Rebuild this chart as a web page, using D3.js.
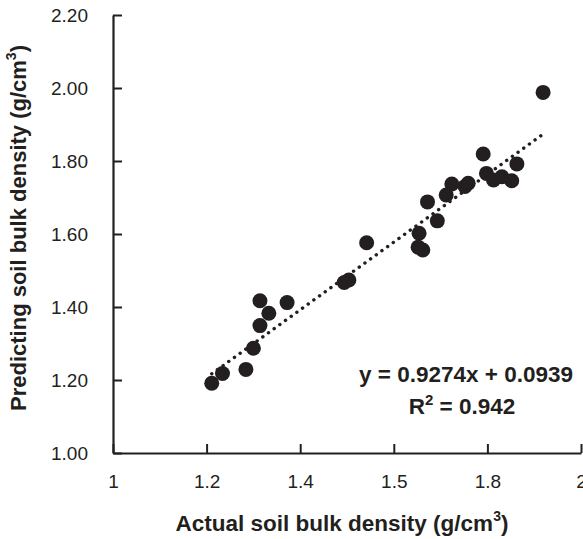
<!DOCTYPE html>
<html>
<head>
<meta charset="utf-8">
<script src="https://cdn.jsdelivr.net/npm/d3@7"></script>
<style>
  body { margin: 0; background: #fff; }
  text { font-family: "Liberation Sans", Arial, sans-serif; fill: #231f20; }
</style>
</head>
<body>
<svg id="chart" width="583" height="539"></svg>
<script>
const actual = [1.211, 1.234, 1.284, 1.300, 1.314, 1.314, 1.333, 1.372, 1.494, 1.504,
  1.542, 1.654, 1.652, 1.662, 1.672, 1.693, 1.712, 1.724, 1.752, 1.759,
  1.791, 1.798, 1.813, 1.831, 1.852, 1.863, 1.919];
const predicted = [1.191, 1.218, 1.229, 1.287, 1.349, 1.417, 1.383, 1.412, 1.467, 1.474,
  1.576, 1.602, 1.564, 1.556, 1.688, 1.636, 1.707, 1.737, 1.730, 1.739,
  1.819, 1.766, 1.748, 1.757, 1.746, 1.792, 1.988];

const xTicks = [1, 1.2, 1.4, 1.6, 1.8, 2];
const xTickLabels = ["1", "1.2", "1.4", "1.5", "1.8", "2"];
const yTicks = [1.0, 1.2, 1.4, 1.6, 1.8, 2.0, 2.2];

const slope = 0.9274;
const intercept = 0.0939;
const r2 = "0.942";

const svg = d3.select("#chart");
const ink = "#231f20";

const x = d3.scaleLinear().domain([1, 2]).range([113, 581]);
const y = d3.scaleLinear().domain([1, 2.2]).range([453, 15]);

// axes: ticks point into the plot
const xAxis = svg.append("g")
  .attr("transform", `translate(0,${y(1)})`)
  .call(d3.axisBottom(x).tickValues(xTicks).tickSizeInner(-9).tickSizeOuter(0)
    .tickFormat((d, i) => xTickLabels[i]).tickPadding(22));

const yAxis = svg.append("g")
  .attr("transform", `translate(${x(1)},0)`)
  .call(d3.axisLeft(y).tickValues(yTicks).tickSizeInner(-9).tickSizeOuter(0)
    .tickFormat(d3.format(".2f")).tickPadding(25));

[xAxis, yAxis].forEach((g) => {
  g.select(".domain").attr("stroke", ink).attr("stroke-width", 2.2);
  g.selectAll(".tick line").attr("stroke", ink).attr("stroke-width", 2);
  g.selectAll(".tick text").style("font-size", "19px").attr("fill", ink);
});
yAxis.selectAll(".tick text").attr("dy", "0.36em");

// trend line, dotted
const xExt = d3.extent(actual);
const trend = xExt.map((v) => [v, slope * v + intercept]);
svg.append("path")
  .datum(trend)
  .attr("d", d3.line().x((d) => x(d[0])).y((d) => y(d[1])))
  .attr("fill", "none")
  .attr("stroke", ink)
  .attr("stroke-width", 3.4)
  .attr("stroke-linecap", "round")
  .attr("stroke-dasharray", "0.1 6.9");

// points
svg.append("g")
  .selectAll("circle")
  .data(actual)
  .join("circle")
  .attr("cx", (d) => x(d))
  .attr("cy", (d, i) => y(predicted[i]))
  .attr("r", 7.5)
  .attr("fill", ink);

// equation
const eq = svg.append("text")
  .attr("text-anchor", "middle")
  .style("font-size", "22.5px")
  .style("font-weight", "bold");
eq.append("tspan").attr("x", 466).attr("y", 382)
  .text(`y = ${slope}x + ${intercept}`);
const r2Line = eq.append("tspan").attr("x", 462).attr("y", 414);
r2Line.append("tspan").text("R");
r2Line.append("tspan").attr("dy", -9).style("font-size", "15px").text("2");
r2Line.append("tspan").attr("dy", 9).text(" = " + r2);

// axis titles
const xTitle = svg.append("text")
  .attr("x", 342).attr("y", 531)
  .attr("text-anchor", "middle")
  .style("font-size", "22.5px")
  .style("font-weight", "bold");
xTitle.append("tspan").text("Actual soil bulk density (g/cm");
xTitle.append("tspan").attr("dy", -10).style("font-size", "14px").text("3");
xTitle.append("tspan").attr("dy", 10).text(")");

const yTitle = svg.append("text")
  .attr("transform", "translate(26,228) rotate(-90)")
  .attr("text-anchor", "middle")
  .style("font-size", "22px")
  .style("font-weight", "bold");
yTitle.append("tspan").text("Predicting soil bulk density (g/cm");
yTitle.append("tspan").attr("dy", -10).style("font-size", "14px").text("3");
yTitle.append("tspan").attr("dy", 10).text(")");
</script>
</body>
</html>
